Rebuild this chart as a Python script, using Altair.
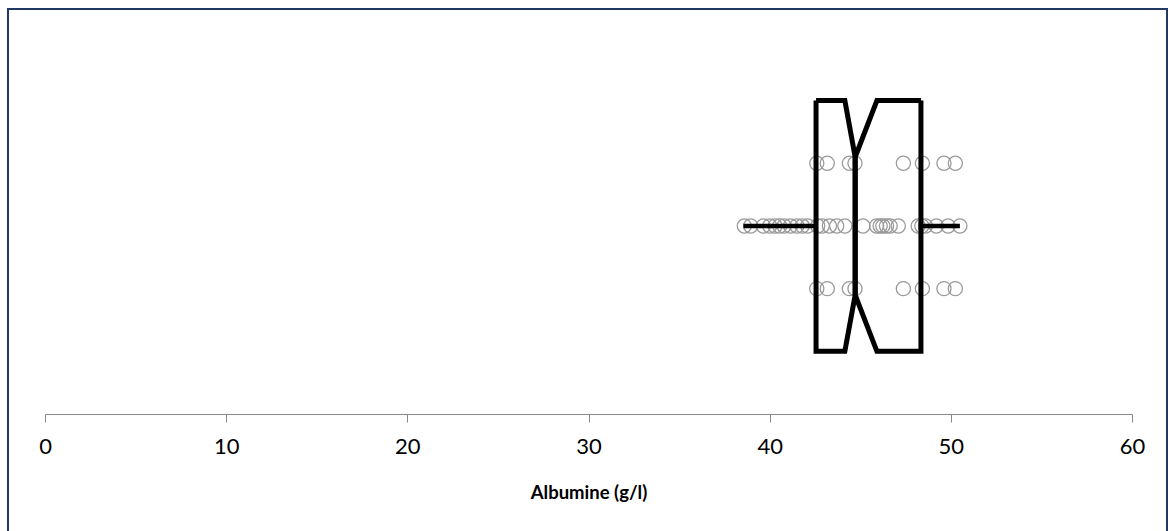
import altair as alt
import pandas as pd

# Data
row_outer_vals = [42.6, 43.18, 44.4, 44.71, 47.38, 48.43, 49.62, 50.25]
row_mid_vals = [38.6, 38.95, 39.65, 40.0, 40.3, 40.55, 40.8, 41.15, 41.5, 41.8,
                42.1, 42.65, 42.9, 43.3, 43.7, 44.15, 45.15, 45.9,
                46.1, 46.25, 46.45, 46.65, 47.1, 48.2, 48.4, 48.6, 49.2, 49.85, 50.5]
q1, median, q3 = 42.56, 44.72, 48.35
notch_lo, notch_hi = 44.15, 45.92
whisker_lo, whisker_hi = 38.55, 50.5

x_ticks = [0, 10, 20, 30, 40, 50, 60]
x_title = "Albumine (g/l)"

# rows: bottom=1, middle=2, top=3 ; box spans 0..4, notch tips at 0.9 / 3.1
pts = pd.DataFrame(
    [{"v": v, "r": 3} for v in row_outer_vals]
    + [{"v": v, "r": 2} for v in row_mid_vals]
    + [{"v": v, "r": 1} for v in row_outer_vals]
)

left_poly = [(q1, 4), (notch_lo, 4), (median, 3.1), (median, 0.9), (notch_lo, 0), (q1, 0), (q1, 4)]
right_poly = [(q3, 4), (notch_hi, 4), (median, 3.1), (median, 0.9), (notch_hi, 0), (q3, 0), (q3, 4)]
poly = pd.DataFrame(
    [{"v": a, "r": b, "o": i, "g": "L"} for i, (a, b) in enumerate(left_poly)]
    + [{"v": a, "r": b, "o": i, "g": "R"} for i, (a, b) in enumerate(right_poly)]
)
whisk = pd.DataFrame([
    {"v": whisker_lo, "v2": q1, "r": 2},
    {"v": q3, "v2": whisker_hi, "r": 2},
])

xs = alt.Scale(domain=[0, 60], nice=False, zero=False)
ys = alt.Scale(domain=[-1, 5.5], nice=False, zero=False)

xaxis = alt.Axis(values=x_ticks, title=x_title, grid=False, domainColor="#898989",
                 tickColor="#898989", tickSize=8, labelFontSize=22, labelFont="Lato",
                 labelColor="black", labelPadding=14, labelFlush=False,
                 titleFont="Lato", titleFontSize=18.5,
                 titleFontWeight="bold", titleColor="black", titlePadding=26, format="d")

border = alt.Chart(pd.DataFrame({"a": [0]})).mark_rect(
    fill=None, stroke="#1F3864", strokeWidth=2
).encode(x=alt.value(-37), x2=alt.value(1122), y=alt.value(2.4), y2=alt.value(650))

points = alt.Chart(pts).mark_point(
    shape="circle", filled=False, size=200, color="#9a9a9a", strokeWidth=1.3, opacity=1
).encode(
    x=alt.X("v:Q", scale=xs, axis=xaxis),
    y=alt.Y("r:Q", scale=ys, axis=None),
)

whiskers = alt.Chart(whisk).mark_rule(color="black", strokeWidth=4.5).encode(
    x=alt.X("v:Q", scale=xs), x2="v2:Q", y=alt.Y("r:Q", scale=ys)
)

box = alt.Chart(poly).mark_line(color="black", strokeWidth=5, strokeJoin="miter").encode(
    x=alt.X("v:Q", scale=xs),
    y=alt.Y("r:Q", scale=ys),
    order="o:Q",
    detail="g:N",
)

chart = alt.layer(border, points, whiskers, box).properties(
    width=1087, height=407.4,
    autosize=alt.AutoSizeParams(type="none"),
    padding={"left": 45, "top": 6.6, "right": 38, "bottom": 117},
    background="white",
).configure_view(stroke=None)

chart.save("out.html", embed_options={"renderer": "svg", "actions": False})
